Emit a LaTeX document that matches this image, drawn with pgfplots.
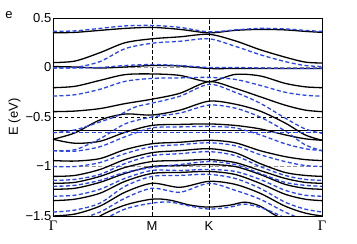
\documentclass[border=0pt]{standalone}
\usepackage{fontspec}
\setmainfont{Liberation Sans}
\newfontfamily\serifgreek{Liberation Serif}
\usepackage{pgfplots}
\pgfplotsset{compat=1.18}
\definecolor{bandblue}{RGB}{40,70,235}
\definecolor{refgray}{RGB}{150,150,150}
\tikzset{
  bk/.style={black, line width=1.3pt, smooth, no markers},
  bl/.style={bandblue, line width=1.3pt, smooth, no markers, dash pattern=on 4pt off 2.5pt},
  refl/.style={black, line width=0.6pt, sharp plot, no markers, dash pattern=on 3.5pt off 2.5pt},
  refg/.style={refgray, line width=1.3pt, sharp plot, no markers, dash pattern=on 4pt off 2.5pt},
}
\begin{document}
\begin{tikzpicture}
\begin{axis}[name=ax,
 scale only axis, width=269pt, height=198pt,
 xmin=53, xmax=322, ymin=-1.5, ymax=0.5,
 xtick={53,152,209,322}, xticklabels={{\serifgreek\fontsize{14.5}{17}\selectfont Γ},M,K,{\serifgreek\fontsize{14.5}{17}\selectfont Γ}},
 ytick={-1.5,-1,-0.5,0,0.5}, yticklabels={−1.5,−1,−0.5,0,0.5},
 tick align=inside, major tick length=3pt,
 ticklabel style={font=\fontsize{13}{15}\selectfont},
 yticklabel style={inner sep=1.5pt},
 xticklabel style={inner sep=1pt, yshift=-4pt},
 ylabel={E (eV)}, ylabel style={font=\fontsize{13}{15}\selectfont},
 axis line style={line width=0.8pt},
]
% reference lines
\addplot[refg] coordinates {(53,0) (322,0)};
\addplot[refg] coordinates {(53,-1) (322,-1)};
\addplot[refl] coordinates {(53,-0.5) (322,-0.5)};
\addplot[refl] coordinates {(152,-1.5) (152,0.5)};
\addplot[refl] coordinates {(209,-1.5) (209,0.5)};
% black bands
\addplot[bk] coordinates {(53,0.350) (75,0.355) (100,0.375) (125,0.395) (152,0.405) (180,0.385) (209,0.350) (235,0.375) (260,0.385) (285,0.380) (305,0.365) (322,0.355)};
\addplot[bk] coordinates {(53,0.050) (75,0.065) (100,0.150) (125,0.250) (152,0.290) (180,0.310) (209,0.335) (235,0.270) (260,0.180) (285,0.105) (305,0.055) (322,0.045)};
\addplot[bk] coordinates {(53,0.010) (75,0.005) (100,-0.005) (125,0.005) (152,0.020) (180,0.015) (209,-0.010) (235,-0.010) (260,-0.010) (285,-0.010) (305,-0.010) (322,-0.010)};
\addplot[bk] coordinates {(53,-0.204) (75,-0.190) (100,-0.130) (125,-0.072) (152,-0.065) (180,-0.080) (209,-0.143) (235,-0.070) (260,-0.085) (285,-0.160) (305,-0.195) (322,-0.204)};
\addplot[bk] coordinates {(53,-0.446) (75,-0.440) (100,-0.415) (125,-0.365) (152,-0.320) (180,-0.260) (209,-0.143) (235,-0.210) (260,-0.295) (285,-0.380) (305,-0.430) (322,-0.446)};
\addplot[bk] coordinates {(53,-0.725) (75,-0.660) (100,-0.530) (125,-0.470) (152,-0.480) (180,-0.430) (209,-0.340) (235,-0.370) (260,-0.440) (285,-0.560) (305,-0.680) (322,-0.735)};
\addplot[bk] coordinates {(53,-0.635) (322,-0.635)};
\addplot[bk] coordinates {(53,-0.725) (75,-0.765) (100,-0.745) (125,-0.655) (152,-0.585) (180,-0.575) (209,-0.570) (235,-0.585) (260,-0.620) (285,-0.680) (305,-0.720) (322,-0.735)};
\addplot[bk] coordinates {(53,-0.940) (75,-0.945) (100,-0.920) (125,-0.830) (152,-0.770) (180,-0.755) (209,-0.735) (235,-0.760) (260,-0.840) (285,-0.900) (305,-0.930) (322,-0.940)};
\addplot[bk] coordinates {(53,-1.100) (75,-1.090) (100,-1.030) (125,-0.930) (152,-0.860) (180,-0.840) (209,-0.820) (235,-0.860) (260,-0.970) (285,-1.060) (305,-1.090) (322,-1.100)};
\addplot[bk] coordinates {(53,-1.170) (75,-1.160) (100,-1.100) (125,-1.010) (152,-0.950) (180,-0.940) (209,-0.930) (235,-0.960) (260,-1.040) (285,-1.120) (305,-1.160) (322,-1.170)};
\addplot[bk] coordinates {(53,-1.230) (75,-1.220) (100,-1.160) (125,-1.070) (152,-1.000) (180,-0.990) (209,-0.980) (235,-1.000) (260,-1.080) (285,-1.180) (305,-1.220) (322,-1.230)};
\addplot[bk] coordinates {(53,-1.345) (75,-1.330) (100,-1.270) (125,-1.150) (152,-1.070) (180,-1.060) (209,-1.050) (235,-1.080) (260,-1.170) (285,-1.280) (305,-1.330) (322,-1.345)};
\addplot[bk] coordinates {(53,-1.500) (75,-1.480) (100,-1.400) (125,-1.260) (152,-1.170) (180,-1.210) (209,-1.150) (235,-1.180) (260,-1.270) (285,-1.400) (305,-1.470) (322,-1.500)};
\addplot[bk] coordinates {(53,-1.750) (75,-1.680) (100,-1.500) (125,-1.390) (152,-1.330) (170,-1.340) (190,-1.390) (209,-1.410) (230,-1.390) (245,-1.360) (260,-1.400) (275,-1.490) (300,-1.620) (322,-1.700)};
% blue bands
\addplot[bl] coordinates {(53,0.365) (75,0.370) (100,0.395) (125,0.420) (152,0.425) (180,0.405) (209,0.360) (235,0.380) (260,0.395) (285,0.390) (305,0.375) (322,0.365)};
\addplot[bl] coordinates {(53,-0.005) (75,0.000) (100,0.060) (125,0.190) (152,0.245) (180,0.265) (209,0.290) (235,0.215) (260,0.130) (285,0.060) (305,0.020) (322,0.010)};
\addplot[bl] coordinates {(53,-0.005) (75,-0.005) (100,0.000) (125,0.020) (152,0.030) (180,0.020) (209,0.000) (235,0.000) (260,-0.005) (285,-0.010) (305,-0.010) (322,-0.010)};
\addplot[bl] coordinates {(53,-0.288) (75,-0.275) (100,-0.220) (125,-0.140) (152,-0.110) (180,-0.105) (209,-0.100) (235,-0.120) (260,-0.180) (285,-0.250) (305,-0.280) (322,-0.290)};
\addplot[bl] coordinates {(53,-0.660) (75,-0.630) (100,-0.550) (117,-0.490) (135,-0.400) (152,-0.360) (180,-0.290) (209,-0.170) (235,-0.250) (260,-0.360) (285,-0.510) (305,-0.620) (322,-0.665)};
\addplot[bl] coordinates {(53,-0.840) (75,-0.830) (100,-0.720) (125,-0.570) (152,-0.500) (180,-0.460) (209,-0.380) (235,-0.410) (260,-0.500) (285,-0.640) (305,-0.780) (322,-0.840)};
\addplot[bl] coordinates {(53,-0.658) (322,-0.658)};
\addplot[bl] coordinates {(53,-0.840) (75,-0.845) (100,-0.800) (125,-0.700) (152,-0.610) (180,-0.600) (209,-0.595) (235,-0.610) (260,-0.680) (285,-0.770) (305,-0.820) (322,-0.840)};
\addplot[bl] coordinates {(53,-1.000) (75,-1.000) (100,-0.960) (125,-0.870) (152,-0.800) (180,-0.780) (209,-0.760) (235,-0.790) (260,-0.880) (285,-0.950) (305,-0.990) (322,-1.000)};
\addplot[bl] coordinates {(53,-1.140) (75,-1.130) (100,-1.080) (125,-0.970) (152,-0.890) (180,-0.870) (209,-0.850) (235,-0.890) (260,-1.000) (285,-1.090) (305,-1.130) (322,-1.140)};
\addplot[bl] coordinates {(53,-1.200) (75,-1.190) (100,-1.140) (125,-1.060) (152,-1.010) (180,-0.980) (209,-0.950) (235,-0.980) (260,-1.070) (285,-1.160) (305,-1.190) (322,-1.200)};
\addplot[bl] coordinates {(53,-1.300) (75,-1.290) (100,-1.230) (125,-1.120) (152,-1.040) (180,-1.040) (209,-1.030) (235,-1.050) (260,-1.130) (285,-1.240) (305,-1.290) (322,-1.300)};
\addplot[bl] coordinates {(53,-1.460) (75,-1.440) (100,-1.370) (125,-1.200) (152,-1.100) (180,-1.090) (209,-1.080) (235,-1.120) (260,-1.220) (285,-1.360) (305,-1.430) (322,-1.460)};
\addplot[bl] coordinates {(53,-1.560) (75,-1.540) (100,-1.460) (125,-1.320) (152,-1.220) (180,-1.260) (209,-1.170) (235,-1.240) (260,-1.330) (285,-1.460) (305,-1.540) (322,-1.560)};
\addplot[bl] coordinates {(53,-1.800) (75,-1.720) (100,-1.560) (125,-1.430) (152,-1.370) (170,-1.360) (190,-1.400) (209,-1.430) (230,-1.410) (245,-1.380) (265,-1.430) (285,-1.520) (305,-1.650) (322,-1.750)};
\end{axis}
\node[font=\fontsize{13}{15}\selectfont] at ([xshift=-44pt,yshift=3pt]ax.north west) {e};
\path ([xshift=-53pt,yshift=-28pt]ax.south west);
\path ([xshift=35pt,yshift=18pt]ax.north east);
\end{tikzpicture}
\end{document}
